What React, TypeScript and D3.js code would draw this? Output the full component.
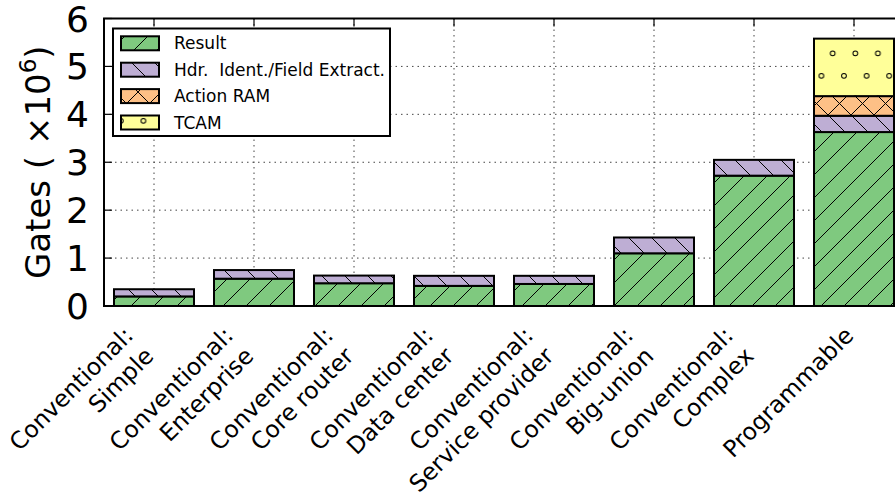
import { scaleBand, scaleLinear, stack } from "d3";

const categories = [
    "Conventional:\nSimple",
    "Conventional:\nEnterprise",
    "Conventional:\nCore router",
    "Conventional:\nData center",
    "Conventional:\nService provider",
    "Conventional:\nBig-union",
    "Conventional:\nComplex",
    "Programmable",
];

const resultGates = [0.2, 0.57, 0.475, 0.42, 0.46, 1.1, 2.72, 3.63];
const hdrGates = [0.15, 0.18, 0.16, 0.21, 0.17, 0.33, 0.33, 0.34];
const actionRamGates = [0, 0, 0, 0, 0, 0, 0, 0.41];
const tcamGates = [0, 0, 0, 0, 0, 0, 0, 1.2];

const seriesKeys = ["result", "hdr", "action", "tcam"];
const seriesLabels = ["Result", "Hdr.  Ident./Field Extract.", "Action RAM", "TCAM"];
const seriesColors = ["#7fc97f", "#beaed4", "#fdc086", "#ffff99"];

const yTicks = [0, 1, 2, 3, 4, 5, 6];

const FONT = "'DejaVu Sans', sans-serif";

const Patterns = () => (
    <defs>
        <pattern id="pat-result" patternUnits="userSpaceOnUse" width={23} height={23}>
            <rect width={23} height={23} fill={seriesColors[0]} />
            <path d="M0,23 L23,0 M-5,5 L5,-5 M18,28 L28,18" stroke="#000" strokeWidth={1} />
        </pattern>
        <pattern id="pat-hdr" patternUnits="userSpaceOnUse" width={23} height={23}>
            <rect width={23} height={23} fill={seriesColors[1]} />
            <path d="M0,0 L23,23 M-5,18 L5,28 M18,-5 L28,5" stroke="#000" strokeWidth={1} />
        </pattern>
        <pattern id="pat-action" patternUnits="userSpaceOnUse" width={23} height={23}>
            <rect width={23} height={23} fill={seriesColors[2]} />
            <path d="M0,23 L23,0 M-5,5 L5,-5 M18,28 L28,18 M0,0 L23,23 M-5,18 L5,28 M18,-5 L28,5" stroke="#000" strokeWidth={1} />
        </pattern>
        <pattern id="pat-tcam" patternUnits="userSpaceOnUse" width={22.6} height={45}>
            <rect width={22.6} height={45} fill={seriesColors[3]} />
            <circle cx={19.1} cy={8.3} r={2.4} fill="none" stroke="#000" strokeWidth={1} />
            <circle cx={7.8} cy={30.8} r={2.4} fill="none" stroke="#000" strokeWidth={1} />
        </pattern>
    </defs>
);

export default function App() {
    const width = 895;
    const height = 493;
    const plot = { left: 104, right: 904, top: 18.5, bottom: 306 };

    const data = categories.map((c, i) => ({
        category: c,
        result: resultGates[i],
        hdr: hdrGates[i],
        action: actionRamGates[i],
        tcam: tcamGates[i],
    }));

    const x = scaleBand()
        .domain(categories)
        .range([plot.left, plot.right])
        .paddingInner(0.2)
        .paddingOuter(0.1);
    const y = scaleLinear().domain([0, 6]).range([plot.bottom, plot.top]);

    const stacked = stack<any>().keys(seriesKeys)(data);
    const centers = categories.map((c) => (x(c) as number) + x.bandwidth() / 2);

    return (
        <svg width={width} height={height} style={{ position: "absolute", left: 0, top: 0, background: "#fff" }}>
            <Patterns />
            {/* grid */}
            <g stroke="#444" strokeWidth={1} strokeDasharray="1.5 4">
                {yTicks.slice(1, -1).map((t) => (
                    <line key={`gy-${t}`} x1={plot.left} x2={plot.right} y1={y(t)} y2={y(t)} />
                ))}
                {centers.map((cx, i) => (
                    <line key={`gx-${i}`} x1={cx} x2={cx} y1={plot.top} y2={plot.bottom} />
                ))}
            </g>
            {/* ticks */}
            <g stroke="#000" strokeWidth={1.2}>
                {yTicks.map((t) => (
                    <line key={`ty-${t}`} x1={plot.left} x2={plot.left + 8} y1={y(t)} y2={y(t)} />
                ))}
                {centers.map((cx, i) => (
                    <line key={`tx-${i}`} x1={cx} x2={cx} y1={plot.top} y2={plot.top + 8} />
                ))}
            </g>
            {/* bars */}
            {stacked.map((layer) => (
                <g key={layer.key} fill={`url(#pat-${layer.key})`} stroke="#000" strokeWidth={2}>
                    {layer.map((d, i) => {
                        if (d[1] - d[0] <= 0) return null;
                        return (
                            <rect
                                key={`${layer.key}-${i}`}
                                x={x(categories[i])}
                                y={y(d[1])}
                                width={x.bandwidth()}
                                height={y(d[0]) - y(d[1])}
                            />
                        );
                    })}
                </g>
            ))}
            {/* frame */}
            <rect x={plot.left} y={plot.top} width={plot.right - plot.left} height={plot.bottom - plot.top} fill="none" stroke="#000" strokeWidth={2} />
            {/* y tick labels */}
            <g fontFamily={FONT} fontSize={36} fill="#000" textAnchor="end">
                {yTicks.map((t) => (
                    <text key={`yl-${t}`} x={89} y={y(t) + 13}>{t}</text>
                ))}
            </g>
            {/* y label */}
            <text
                transform={`translate(50, ${(plot.top + plot.bottom) / 2}) rotate(-90)`}
                textAnchor="middle"
                fontFamily={FONT}
                fontSize={34}
                fill="#000"
                style={{ whiteSpace: "pre" }}
            >
                {"Gates ( ×10"}<tspan dy={-14} fontSize={23}>6</tspan><tspan dy={14}>)</tspan>
            </text>
            {/* x tick labels */}
            <g fontFamily={FONT} fontSize={23.5} fill="#000">
                {categories.map((c, i) => {
                    const lines = c.split("\n");
                    const lh = 29;
                    const ox = centers[i] + 1;
                    const oy = 337 + 0.707 * lh * (lines.length - 1);
                    return (
                        <text key={`xl-${i}`} transform={`translate(${ox}, ${oy}) rotate(-45)`} textAnchor="end">
                            {lines.map((ln, li) => (
                                <tspan key={li} x={0} y={-lh * (lines.length - 1 - li)}>{ln}</tspan>
                            ))}
                        </text>
                    );
                })}
            </g>
            {/* legend */}
            <g>
                <rect x={113} y={28.5} width={277} height={107.5} fill="#fff" stroke="#000" strokeWidth={2} />
                {seriesLabels.map((lab, i) => {
                    const cy = 43.3 + i * 26.4;
                    return (
                        <g key={`lg-${i}`}>
                            <rect x={121} y={cy - 7} width={38} height={14} fill={`url(#pat-${seriesKeys[i]})`} stroke="#000" strokeWidth={2} />
                            <text x={174} y={cy + 6} fontFamily={FONT} fontSize={17} fill="#000" style={{ whiteSpace: "pre" }}>{lab}</text>
                        </g>
                    );
                })}
            </g>
        </svg>
    );
}
